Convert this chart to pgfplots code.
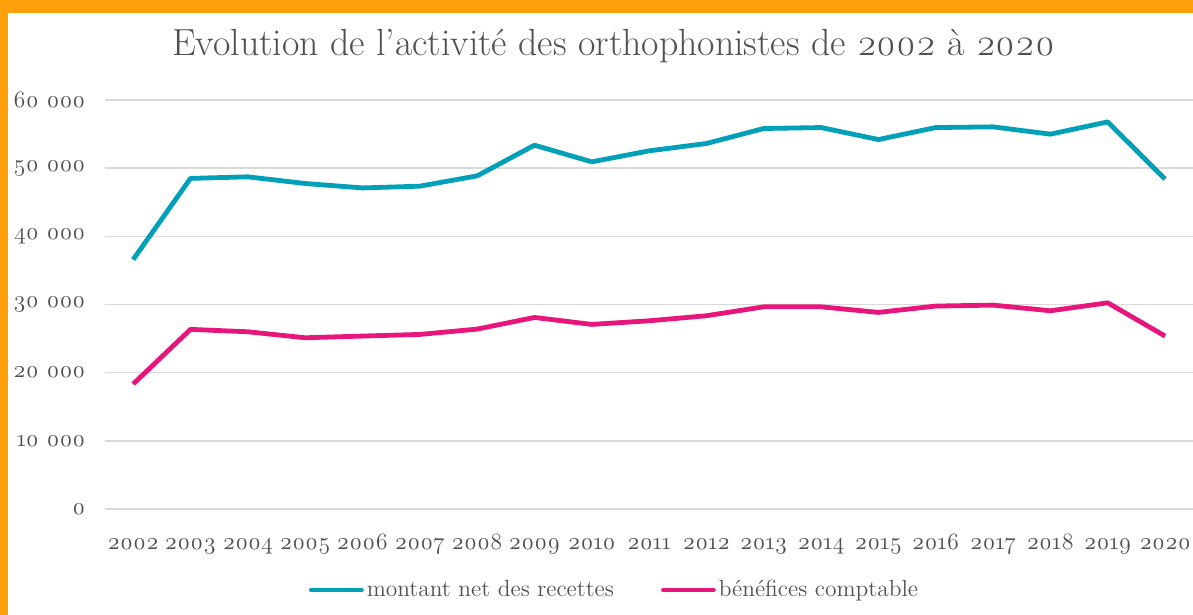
\documentclass[border=0pt]{standalone}
\usepackage{fontspec}
\setmainfont{Latin Modern Roman}[Numbers=OldStyle]
\usepackage{pgfplots}
\pgfplotsset{compat=1.18}
\definecolor{tealc}{RGB}{0,160,184}
\definecolor{pinkc}{RGB}{232,22,124}
\definecolor{txt}{RGB}{80,80,80}
\definecolor{gridc}{RGB}{217,217,217}
\definecolor{frame}{RGB}{255,160,10}
\begin{document}
\begin{tikzpicture}
\fill[frame] (0pt,0pt) rectangle (596.5pt,307.5pt);
\fill[white] (4pt,0pt) rectangle (596.5pt,301pt);
\useasboundingbox (0pt,0pt) rectangle (596.5pt,307.5pt);
\node[text=txt,font=\fontsize{18.9}{22}\selectfont] at (306.8pt,284.5pt) {Evolution de l'activité des orthophonistes de 2002 à 2020};
\begin{axis}[
  at={(52.25pt,53pt)}, anchor=south west,
  scale only axis, width=544.6pt, height=204.5pt,
  xmin=-0.5, xmax=18.5, ymin=0, ymax=60000,
  xtick={0,...,18},
  xticklabels={2002,2003,2004,2005,2006,2007,2008,2009,2010,2011,2012,2013,2014,2015,2016,2017,2018,2019,2020},
  ytick={0,10000,...,60000},
  ymajorgrids, grid style={gridc, line width=0.75pt},
  axis line style={draw=none},
  major tick length=0pt,
  tick label style={text=txt, font=\fontsize{11.7}{14}\selectfont},
  /pgf/number format/assume math mode=true,
  /pgf/number format/1000 sep={\ },
  scaled y ticks=false,
  yticklabel style={xshift=-6pt},
  xticklabel style={anchor=base, yshift=-20pt},
  legend columns=2,
  legend style={at={(0.4687,-0.198)}, anchor=center, draw=none, fill=none,
    font=\fontsize{11.7}{14}\selectfont, text=txt,
    /tikz/every even column/.append style={column sep=22pt},
    nodes={inner sep=1.5pt}},
  legend image code/.code={\draw[#1, line cap=round] (0pt,0pt) -- (25pt,0pt);},
  clip=false,
]
\addplot[tealc, line width=2.4pt, line join=round] coordinates {
(0,36600) (1,48500) (2,48730) (3,47750) (4,47100) (5,47360) (6,48870) (7,53370) (8,50930)
(9,52540) (10,53620) (11,55820) (12,55960) (13,54200) (14,55960) (15,56060) (16,54990) (17,56790) (18,48390)};
\addlegendentry{montant net des recettes}
\addplot[pinkc, line width=2.4pt, line join=round] coordinates {
(0,18330) (1,26350) (2,26000) (3,25120) (4,25370) (5,25610) (6,26390) (7,28100) (8,27080)
(9,27610) (10,28350) (11,29660) (12,29660) (13,28840) (14,29770) (15,29910) (16,29080) (17,30250) (18,25370)};
\addlegendentry{bénéfices comptable}
\end{axis}
\end{tikzpicture}
\end{document}
